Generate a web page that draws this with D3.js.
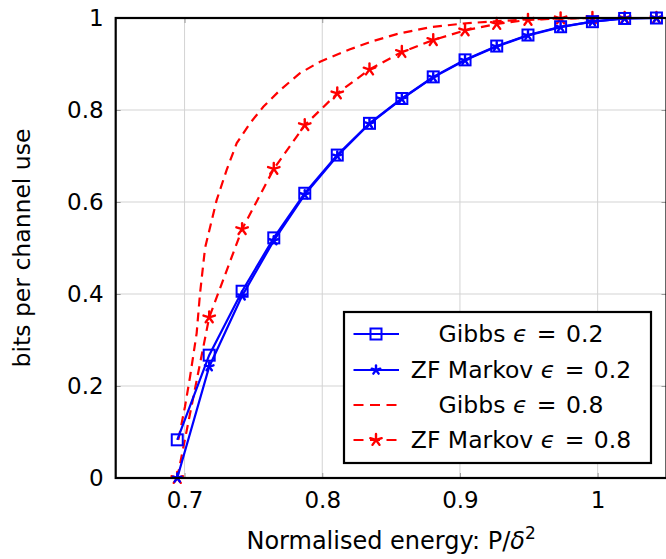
<!DOCTYPE html>
<html>
<head>
<meta charset="utf-8">
<script src="https://cdn.jsdelivr.net/npm/d3@7"></script>
<style>
  html, body { margin: 0; padding: 0; background: #fff; }
  svg { display: block; }
  text { font-family: "DejaVu Sans", sans-serif; fill: #000; }
</style>
</head>
<body>
<svg id="chart" width="666" height="559"></svg>
<script>
// ---- data ----
const energy = [0.6947, 0.7179, 0.7418, 0.7648, 0.7873, 0.8109, 0.8343, 0.8578,
                0.8806, 0.9037, 0.9267, 0.9494, 0.9731, 0.9962, 1.0196, 1.0427];
const gibbs02 = [0.083, 0.267, 0.406, 0.522, 0.619, 0.702, 0.771, 0.825,
                 0.872, 0.909, 0.939, 0.963, 0.981, 0.992, 0.999, 1.0];
const zfMarkov02 = [0.0, 0.242, 0.396, 0.516, 0.616, 0.700, 0.770, 0.824,
                    0.871, 0.908, 0.938, 0.962, 0.980, 0.992, 0.999, 1.0];
const zfMarkov08 = [0.0, 0.349, 0.541, 0.672, 0.767, 0.836, 0.888, 0.926,
                    0.952, 0.973, 0.987, 0.996, 0.999, 1.0, 1.0, 1.0];
const gibbs08Energy = [0.6955, 0.7003, 0.7040, 0.7088, 0.7112, 0.7149, 0.7233, 0.7306,
                       0.7379, 0.7475, 0.7572, 0.7693, 0.7838, 0.7984, 0.8202, 0.8371,
                       0.8541, 0.8783, 0.9024, 0.9267, 0.9494, 0.9731, 0.9962, 1.0196, 1.0427];
const gibbs08 = [0.083, 0.155, 0.220, 0.315, 0.400, 0.500, 0.604, 0.670,
                 0.728, 0.771, 0.807, 0.843, 0.880, 0.905, 0.932, 0.950,
                 0.965, 0.980, 0.988, 0.993, 0.997, 0.999, 1.0, 1.0, 1.0];
const xTicks = [0.7, 0.8, 0.9, 1];
const yTicks = [0, 0.2, 0.4, 0.6, 0.8, 1];
const legendLabels = [
  ["Gibbs ", "0.2"],
  ["ZF Markov ", "0.2"],
  ["Gibbs ", "0.8"],
  ["ZF Markov ", "0.8"]
];
const xTitle = "Normalised energy: P/";
const yTitle = "bits per channel use";

// ---- layout ----
const L = 115.7, R = 666.5, T = 18, B = 478;
const x = d3.scaleLinear().domain([0.65, 1.05]).range([L, R]);
const y = d3.scaleLinear().domain([0, 1]).range([B, T]);
const svg = d3.select("#chart");

// grid
const grid = svg.append("g");
grid.selectAll(".gx").data(xTicks).join("line")
  .attr("x1", d => x(d)).attr("x2", d => x(d)).attr("y1", T).attr("y2", B)
  .attr("stroke", "#d3d3d3").attr("stroke-width", 1);
grid.selectAll(".gy").data(yTicks).join("line")
  .attr("x1", L).attr("x2", R).attr("y1", d => y(d)).attr("y2", d => y(d))
  .attr("stroke", "#d3d3d3").attr("stroke-width", 1);

// inner ticks (axes)
const xAxisB = d3.axisBottom(x).tickValues(xTicks).tickSize(-5).tickFormat(d3.format("~g")).tickPadding(14);
const gxa = svg.append("g").attr("transform", `translate(0,${B})`).call(xAxisB);
const xAxisT = d3.axisTop(x).tickValues(xTicks).tickSize(-5).tickFormat("");
const gxt = svg.append("g").attr("transform", `translate(0,${T})`).call(xAxisT);
const yAxisL = d3.axisLeft(y).tickValues(yTicks).tickSize(-5).tickFormat(d3.format("~g")).tickPadding(12);
const gya = svg.append("g").attr("transform", `translate(${L},0)`).call(yAxisL);
const yAxisR = d3.axisRight(y).tickValues(yTicks).tickSize(-5).tickFormat("");
const gyr = svg.append("g").attr("transform", `translate(${R},0)`).call(yAxisR);
[gxa, gxt, gya, gyr].forEach(g => {
  g.select(".domain").remove();
  g.selectAll(".tick line").attr("stroke", "#999").attr("stroke-width", 1);
  g.selectAll(".tick text").attr("font-size", 23).attr("font-family", "DejaVu Sans, sans-serif").attr("fill", "#000");
});
gxa.selectAll(".tick text").attr("dy", "0.71em");

// series
const line = d3.line().x(d => x(d[0])).y(d => y(d[1]));
const zip = (xs, ys) => xs.map((v, i) => [v, ys[i]]);
const plot = svg.append("g");

function drawSquare(g, cx, cy, color) {
  g.append("rect").attr("x", cx - 5.5).attr("y", cy - 5.5).attr("width", 11).attr("height", 11)
    .attr("fill", "none").attr("stroke", color).attr("stroke-width", 2);
}
function drawStar(g, cx, cy, color, r) {
  for (let k = 0; k < 5; k++) {
    const a = -Math.PI / 2 + k * 2 * Math.PI / 5;
    g.append("line").attr("x1", cx).attr("y1", cy)
      .attr("x2", cx + r * Math.cos(a)).attr("y2", cy + r * Math.sin(a))
      .attr("stroke", color).attr("stroke-width", 2.4).attr("stroke-linecap", "round");
  }
}

// Gibbs 0.8 (red dashed, no marker)
plot.append("path").datum(zip(gibbs08Energy, gibbs08)).attr("d", line)
  .attr("fill", "none").attr("stroke", "#ff0000").attr("stroke-width", 2.2).attr("stroke-dasharray", "9,6");
// ZF Markov 0.8 (red dashed, stars)
plot.append("path").datum(zip(energy, zfMarkov08)).attr("d", line)
  .attr("fill", "none").attr("stroke", "#ff0000").attr("stroke-width", 2.2).attr("stroke-dasharray", "9,6");
const m08 = plot.append("g");
zip(energy, zfMarkov08).forEach(d => drawStar(m08, x(d[0]), y(d[1]), "#ff0000", 6));
// ZF Markov 0.2 (blue, stars)
plot.append("path").datum(zip(energy, zfMarkov02)).attr("d", line)
  .attr("fill", "none").attr("stroke", "#0000ff").attr("stroke-width", 2.2);
const m02 = plot.append("g");
zip(energy, zfMarkov02).forEach(d => drawStar(m02, x(d[0]), y(d[1]), "#0000ff", 4.5));
// Gibbs 0.2 (blue, squares)
plot.append("path").datum(zip(energy, gibbs02)).attr("d", line)
  .attr("fill", "none").attr("stroke", "#0000ff").attr("stroke-width", 2.2);
const g02 = plot.append("g");
zip(energy, gibbs02).forEach(d => drawSquare(g02, x(d[0]), y(d[1]), "#0000ff"));

// frame
svg.append("rect").attr("x", L).attr("y", T).attr("width", R - L).attr("height", B - T)
  .attr("fill", "none").attr("stroke", "#000").attr("stroke-width", 2.2);

// axis titles
const xt = svg.append("text").attr("x", (L + R) / 2).attr("y", 549)
  .attr("text-anchor", "middle").attr("font-size", 24);
xt.append("tspan").text(xTitle);
xt.append("tspan").attr("font-style", "italic").text("δ");
xt.append("tspan").attr("font-size", 17).attr("dy", -10).text("2");

svg.append("text").attr("transform", `translate(30,${(T + B) / 2}) rotate(-90)`)
  .attr("text-anchor", "middle").attr("font-size", 23.5).text(yTitle);

// legend
const lg = svg.append("g");
lg.append("rect").attr("x", 344).attr("y", 312).attr("width", 307).attr("height", 151)
  .attr("fill", "#fff").attr("stroke", "#000").attr("stroke-width", 2.2);
const rowY = [334, 370, 405, 440];
const styles = [
  {color: "#0000ff", dash: null, marker: "square"},
  {color: "#0000ff", dash: null, marker: "star", r: 4.5},
  {color: "#ff0000", dash: "10,6.5", marker: null},
  {color: "#ff0000", dash: "10,6.5", marker: "star", r: 6}
];
legendLabels.forEach((lab, i) => {
  const st = styles[i], cy = rowY[i];
  lg.append("line").attr("x1", 353.5).attr("x2", 399).attr("y1", cy).attr("y2", cy)
    .attr("stroke", st.color).attr("stroke-width", 2.2).attr("stroke-dasharray", st.dash);
  if (st.marker === "square") drawSquare(lg, 376, cy, st.color);
  if (st.marker === "star") drawStar(lg, 376, cy, st.color, st.r);
  const t = lg.append("text").attr("x", 521).attr("y", cy).attr("dy", "0.36em")
    .attr("text-anchor", "middle").attr("font-size", 23.5);
  t.append("tspan").text(lab[0]);
  t.append("tspan").attr("font-style", "italic").text("ϵ");
  t.append("tspan").attr("dx", 2).text(" =");
  t.append("tspan").attr("dx", 2).text(" " + lab[1]);
});
</script>
</body>
</html>
